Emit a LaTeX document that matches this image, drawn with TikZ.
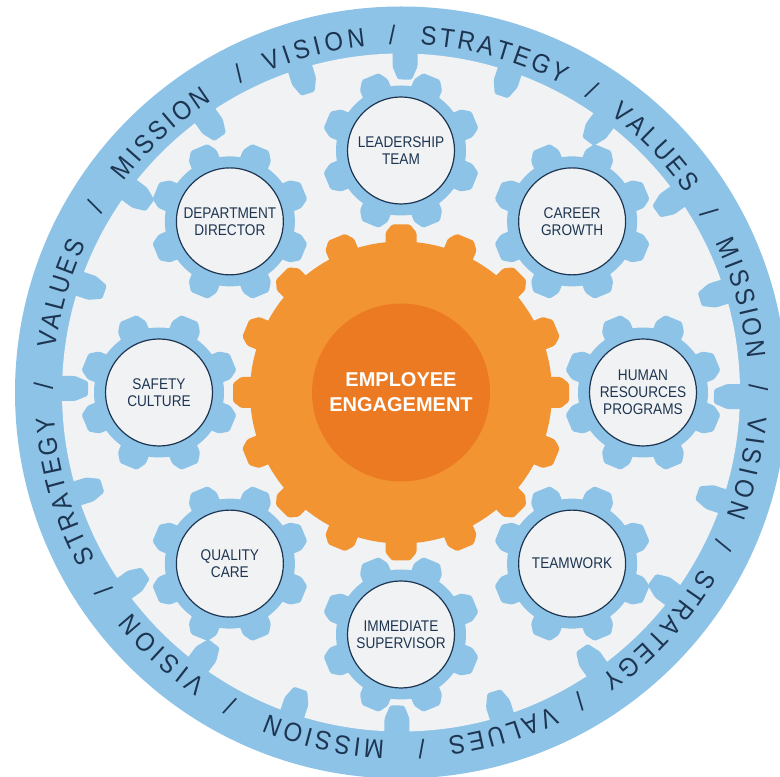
\documentclass[tikz,border=0pt]{standalone}
\usepackage{fontspec}
\setmainfont{Liberation Sans}
\newfontfamily\labelfont[FakeStretch=0.88]{Liberation Sans}
\newfontfamily\ringfont[FakeStretch=0.9]{Liberation Sans}
\usetikzlibrary{decorations.text}

\definecolor{ringblue}{HTML}{8EC3E8}
\definecolor{paper}{HTML}{F1F2F4}
\definecolor{gearorange}{HTML}{F39432}
\definecolor{coreorange}{HTML}{EC7A22}
\definecolor{navy}{HTML}{1D3550}

\tikzset{
  gearlabel/.style={circle, draw=navy, line width=1.2pt, fill=paper, minimum size=107pt, inner sep=0pt,
    align=center, text=navy, font={\labelfont\fontsize{15.5}{17}\selectfont}},
  coretext/.style={circle, fill=coreorange, minimum size=178pt, inner sep=0pt,
    align=center, text=white, font={\bfseries\fontsize{20}{25}\selectfont}},
  ringslash/.style={inner sep=0pt, text=navy, font={\ringfont\fontsize{26.5}{30}\selectfont}}
}

\begin{document}
\begin{tikzpicture}[x=1pt, y=1pt]
	\useasboundingbox (0,0) rectangle (780,777);
	\clip (0,0) rectangle (780,777);
	\fill[white] (0,0) rectangle (780,777);
	\coordinate (C) at (401,384.5);
	
	%outer ring
	\fill[ringblue] (C) circle (386);
	\fill[paper] (C) circle (339);
	\foreach \t in {0,18,...,342}{
		\fill[ringblue, shift={(C)}, rotate=\t-0.7, rounded corners=1.5] (345,-12.5) -- (326,-12.5) -- (313,-7) -- (313,7) -- (326,12.5) -- (345,12.5) -- cycle;
	}
	
	%ring words
	\foreach \w/\m/\h in {STRATEGY/74.55/12.3, VALUES/44.0/9.0, MISSION/15.55/9.9, VISION/-12.3/8.4,
		STRATEGY/-42.6/12.3, VALUES/-73.25/9.0, MISSION/-102.6/9.9, VISION/-132.35/8.4,
		STRATEGY/-163.65/12.3, VALUES/-196.2/9.0, MISSION/-227.15/9.9, VISION/-255.8/8.4}{
		\ringfont\fontsize{26.5}{30}\selectfont
		\path[decorate, decoration={text along path, text align={fit to path}, text color=navy, text/.expanded=\w}]
			([shift={(C)}]\m+\h:348) arc[start angle=\m+\h, end angle=\m-\h, radius=348];
	}
	\foreach \s [count=\i] in {91.4,57.7,30.3,0.8,-25.4,-59.8,-86.7,-118.5,-146.2,-181.1,-211.3,-243}{
		\node[ringslash, rotate=\s-90] (slash\i) at ([shift={(C)}]\s:357.5) {/};
	}
	
	%big gear
	\fill[gearorange] (C) circle (151);
	\foreach \t in {0,22.5,...,337.5}{
		\fill[gearorange, shift={(C)}, rotate=\t, rounded corners=1.5] (146,-15.5) -- (160,-15.5) -- (168,-9) -- (168,9) -- (160,15.5) -- (146,15.5) -- cycle;
	}
	\node[coretext] (core) at (C) {EMPLOYEE\\ENGAGEMENT};
	
	%small gears
	\foreach \a/\nm/\txt in {90/leadership/{LEADERSHIP\\TEAM}, 45/career/{CAREER\\GROWTH},
		0/hr/{HUMAN\\RESOURCES\\PROGRAMS}, -45/teamwork/{TEAMWORK}, -90/supervisor/{IMMEDIATE\\SUPERVISOR},
		-135/quality/{QUALITY\\CARE}, 180/safety/{SAFETY\\CULTURE}, 135/director/{DEPARTMENT\\DIRECTOR}}{
		\coordinate (\nm-c) at ([shift={(C)}]\a:242);
		\fill[ringblue] (\nm-c) circle (65);
		\foreach \t in {22.5,67.5,...,337.5}{
			\fill[ringblue, shift={(\nm-c)}, rotate=\t, rounded corners=1.5] (60,-15) -- (71,-15) -- (80,-9) -- (80,9) -- (71,15) -- (60,15) -- cycle;
		}
		\node[gearlabel] (\nm) at (\nm-c) {\txt};
	}
\end{tikzpicture}
\end{document}
